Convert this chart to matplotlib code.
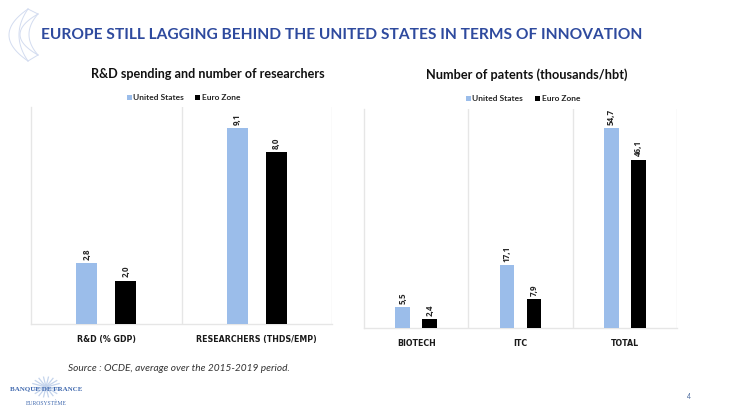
import numpy as np
import matplotlib
matplotlib.use('Agg')
import matplotlib.pyplot as plt

plt.rcParams['font.family'] = ['Lato', 'DejaVu Sans']

W, H = 730, 410

# Valeurs
cats_left = ['R&D (% GDP)', 'RESEARCHERS (THDS/EMP)']
us_left = [2.8, 9.1]
ez_left = [2.0, 8.0]

cats_right = ['BIOTECH', 'ITC', 'TOTAL']
us_right = [5.5, 17.1, 54.7]
ez_right = [2.4, 7.9, 46.1]

series_names = ['United States', 'Euro Zone']
title_main = 'EUROPE STILL LAGGING BEHIND THE UNITED STATES IN TERMS OF INNOVATION'
title_left = 'R&D spending and number of researchers'
title_right = 'Number of patents (thousands/hbt)'
source = 'Source : OCDE, average over the 2015-2019 period.'

BLUE = '#9BBDEA'
BLACK = '#000000'
GRID = '#E6E6E6'
DECOR = '#D3DCF0'
LOGO = '#3F68AE'


def px_axes(fig, x0, y0, x1, y1):
    # position donnee en pixels, origine en haut a gauche
    return fig.add_axes([x0 / W, 1 - y1 / H, (x1 - x0) / W, (y1 - y0) / H])


def bars(ax, cats, us, ez, ymax, fmt='{:.1f}'):
    x = np.arange(len(cats))
    b1 = ax.bar(x - 0.13, us, 0.14, color=BLUE, zorder=3)
    b2 = ax.bar(x + 0.13, ez, 0.14, color=BLACK, zorder=3)
    for rects in (b1, b2):
        for r in rects:
            label = fmt.format(r.get_height()).replace('.', ',')
            ax.annotate(label, (r.get_x() + r.get_width() / 2, r.get_height()),
                        xytext=(0, 3), textcoords='offset points', rotation=90,
                        ha='center', va='bottom', fontsize=5.8, fontweight='bold',
                        family='Open Sans', color='#262626')
    ax.set_xlim(-0.5, len(cats) - 0.5)
    ax.set_ylim(0, ymax)
    ax.set_yticks([])
    ax.set_xticks(x)
    ax.set_xticklabels(cats, fontsize=5.7, fontweight='bold', color='#1a1a1a',
                       family='DejaVu Sans')
    ax.tick_params(axis='x', length=0, pad=7.5)
    for s in ['top', 'right']:
        ax.spines[s].set_visible(False)
    for s in ['left', 'bottom']:
        ax.spines[s].set_color(GRID)
        ax.spines[s].set_linewidth(1.0)
    # separateurs verticaux entre categories
    for v in np.arange(len(cats)) + 0.5:
        ax.axvline(v, color=GRID, lw=1.0, zorder=1)
    return b1, b2


def crescent_edge(ax, x_tip, x_mid, y_top, y_bot):
    # bord courbe du decor, du coin haut au coin bas
    y = np.linspace(y_top, y_bot, 40)
    t = (y - (y_top + y_bot) / 2) / ((y_bot - y_top) / 2)
    ax.plot(x_tip - (x_tip - x_mid) * (1 - t ** 2), y, color=DECOR, lw=0.7)


def legend_row(ax, y, x_us, x_ez):
    ax.plot([x_us], [y], 's', ms=3.6, color=BLUE, mew=0)
    ax.text(x_us + 4.5, y, series_names[0], fontsize=6, fontweight='bold',
            color='#262626', va='center')
    ax.plot([x_ez], [y], 's', ms=3.6, color=BLACK, mew=0)
    ax.text(x_ez + 5, y, series_names[1], fontsize=6, fontweight='bold',
            color='#262626', va='center')


fig = plt.figure(figsize=(W / 100, H / 100), dpi=100, facecolor='white')

# fond : titres, source, decor, en coordonnees pixel
bg = fig.add_axes([0, 0, 1, 1])
bg.set_xlim(0, W)
bg.set_ylim(H, 0)
bg.axis('off')

crescent_edge(bg, 28, 9, 10, 62)
crescent_edge(bg, 28, 19, 10, 62)
crescent_edge(bg, 38, 20, 15, 56)
crescent_edge(bg, 38, 29, 15, 56)
bg.plot([28, 38], [10, 15], color=DECOR, lw=0.7)
bg.plot([28, 38], [62, 56], color=DECOR, lw=0.7)

bg.text(41, 35, title_main, fontsize=11.2, fontweight='bold', color='#2E4A9E',
        ha='left', va='center')
bg.text(208, 74.5, title_left, fontsize=9.1, fontweight='bold', color='#111111',
        ha='center', va='center')
bg.text(526.5, 74.5, title_right, fontsize=9.2, fontweight='bold', color='#111111',
        ha='center', va='center')
bg.text(68, 368.5, source, fontsize=7.25, style='italic', color='#333333',
        ha='left', va='center')
bg.text(689, 396.5, '4', fontsize=5, color='#4A6A9E', ha='center', va='center')

# logo
for ang in np.arange(0, 180, 20):
    dx, dy = 14 * np.cos(np.radians(ang)), 10 * np.sin(np.radians(ang))
    bg.plot([46 - dx, 46 + dx], [388 - dy, 388 + dy], color='#C4D4EC', lw=0.9)
bg.text(46, 388.5, 'BANQUE DE FRANCE', fontsize=5.05, color=LOGO,
        family='Liberation Serif', fontweight='bold', ha='center', va='center')
bg.text(46.5, 403, 'EUROSYSTÈME', fontsize=4.1, color=LOGO,
        family='Liberation Serif', ha='center', va='center')

legend_row(bg, 97.5, 128.5, 196.5)
legend_row(bg, 98.5, 467.5, 536.5)

ax1 = px_axes(fig, 31, 108, 332, 324.5)
ax1.patch.set_alpha(0)
bars(ax1, cats_left, us_left, ez_left, 10.1)

ax2 = px_axes(fig, 364, 110, 677, 328.5)
ax2.patch.set_alpha(0)
bars(ax2, cats_right, us_right, ez_right, 60.0)

fig.savefig('out.png', dpi=100)
